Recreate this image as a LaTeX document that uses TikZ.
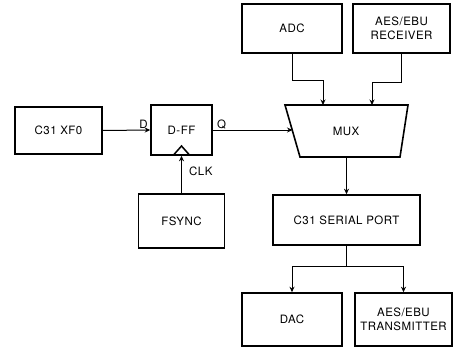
\documentclass[tikz,border=0pt]{standalone}
\usepackage{fontspec}
\newfontfamily\labfont[LetterSpace=4]{TeX Gyre Heros}
\usetikzlibrary{arrows.meta}
\begin{document}
\begin{tikzpicture}[x=1pt,y=-1pt,
  blk/.style={draw, line width=1.6pt, rectangle, inner sep=0pt, align=center,
     font=\labfont\fontsize{11.5}{14}\selectfont},
  lbl/.style={inner sep=1pt, font=\labfont\fontsize{11.5}{13}\selectfont},
  conn/.style={line width=1pt},
  arr/.style={conn, -{Stealth[length=5.5pt,width=5pt]}}]
\useasboundingbox (0,0) rectangle (454,350);
% blocks
\node[blk, minimum width=87pt, minimum height=47pt] (xf0) at (58.5,130.5) {C31 XF0};
\node[blk, minimum width=61pt, minimum height=50pt] (dff) at (181.5,130) {D-FF};
\node[blk, minimum width=86pt, minimum height=54pt] (fsync) at (181.5,221) {FSYNC};
\node[blk, minimum width=100pt, minimum height=49pt] (adc) at (292,28.5) {ADC};
\node[blk, minimum width=97pt, minimum height=49pt] (rcv) at (401.5,28.5) {AES/EBU\\RECEIVER};
\node[blk, minimum width=147pt, minimum height=50pt] (serial) at (346.5,220) {C31 SERIAL PORT};
\node[blk, minimum width=100pt, minimum height=53pt] (dac) at (292,319.5) {DAC};
\node[blk, minimum width=97pt, minimum height=53pt] (tx) at (403.5,319.5) {AES/EBU\\TRANSMITTER};
% MUX trapezoid
\draw[line width=1.6pt, line join=miter] (285,105) coordinate (m1) -- (408,105) coordinate (m2)
   -- (400,157) coordinate (m3) -- (300,157) coordinate (m4) -- cycle;
\node[lbl] (mux) at (346,131) {MUX};
\coordinate (muxL) at (292.5,130);
\coordinate (muxA) at (323,105);
\coordinate (muxB) at (372,105);
\coordinate (muxS) at (346.5,157);
% clock triangle
\draw[line width=1.5pt, line join=miter] (173.5,155) -- (181.5,146) -- (189.5,155);
% connectors
\draw[arr] (xf0.east) -- (dff.west) node[lbl, pos=1, anchor=south east, xshift=-1pt] (dlab) {D};
\draw[arr] (dff.east) -- (muxL);
\node[lbl, anchor=south west, xshift=3pt] (qlab) at (dff.east) {Q};
\draw[arr] (fsync.north) -- (fsync.north |- dff.south);
\node[lbl, anchor=west] (clk) at (188,171) {CLK};
\draw[arr] (adc.south) -- ++(0,26.5) -| (muxA);
\draw[arr] (rcv.south) -- ++(0,28.5) -| (muxB);
\draw[arr] (muxS) -- (serial.north);
\draw[conn] (serial.south) -- ++(0,21) coordinate (split);
\draw[arr] (split) -| (dac.north);
\draw[arr] (split) -| (tx.north);
\end{tikzpicture}
\end{document}
